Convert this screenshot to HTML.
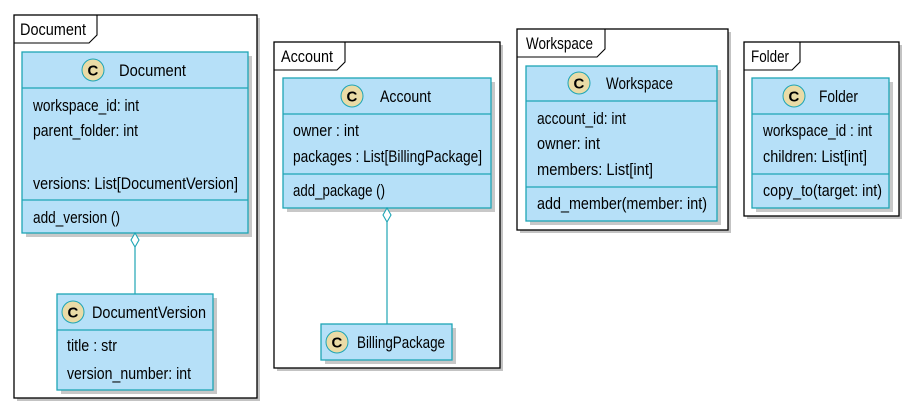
<!DOCTYPE html>
<html><head><meta charset="utf-8"><style>
html,body{margin:0;padding:0;background:#fff;}
svg{display:block;}
text{font-family:"Liberation Sans",sans-serif;font-size:17px;fill:#000;}
.c{font-family:"Liberation Sans",sans-serif;font-weight:bold;font-size:15px;}
.cls{fill:#b6e0f8;stroke:#1ea5b5;stroke-width:1.3;}
.sh{fill:#9a9a9a;opacity:.55;}
.fr{fill:#fff;stroke:#000;stroke-width:1.3;}
.frs{fill:#888;opacity:.5;}
.ln{stroke:#1ea5b5;stroke-width:1.2;fill:none;}
.ci{fill:#eadba6;stroke:#1ea5b5;stroke-width:1;}
</style></head><body>
<svg width="910" height="408" viewBox="0 0 910 408" xmlns="http://www.w3.org/2000/svg">
<!-- Document frame -->
<rect class="frs" x="17" y="18" width="243" height="383"/>
<rect class="fr" x="14" y="15" width="243" height="383"/>
<path d="M14 43 H89 L97 35 V15" fill="none" stroke="#000" stroke-width="1.1"/>
<text x="20" y="35" textLength="66" lengthAdjust="spacingAndGlyphs">Document</text>
<rect class="sh" x="26" y="56" width="226" height="181"/>
<rect class="cls" x="22" y="52" width="226" height="181"/>
<line class="ln" x1="22" y1="88" x2="248" y2="88"/>
<line class="ln" x1="22" y1="200" x2="248" y2="200"/>
<circle class="ci" cx="93" cy="70" r="11"/><text class="c" x="87.5" y="75.5">C</text>
<text x="119" y="76" textLength="67" lengthAdjust="spacingAndGlyphs">Document</text>
<text x="33" y="111" textLength="106" lengthAdjust="spacingAndGlyphs">workspace_id: int</text>
<text x="33" y="136" textLength="105" lengthAdjust="spacingAndGlyphs">parent_folder: int</text>
<text x="33" y="189" textLength="205" lengthAdjust="spacingAndGlyphs">versions: List[DocumentVersion]</text>
<text x="33" y="223" textLength="87" lengthAdjust="spacingAndGlyphs">add_version ()</text>
<line class="ln" x1="135" y1="247" x2="135" y2="294"/>
<path d="M135 233 L139 240 L135 247 L131 240 Z" fill="#fff" stroke="#1ea5b5" stroke-width="1.1"/>
<rect class="sh" x="61" y="298" width="156" height="96"/>
<rect class="cls" x="57" y="294" width="156" height="96"/>
<line class="ln" x1="57" y1="330" x2="213" y2="330"/>
<circle class="ci" cx="73" cy="312" r="11"/><text class="c" x="67.5" y="317.5">C</text>
<text x="92" y="318" textLength="114" lengthAdjust="spacingAndGlyphs">DocumentVersion</text>
<text x="67" y="351" textLength="50" lengthAdjust="spacingAndGlyphs">title : str</text>
<text x="67" y="379" textLength="124" lengthAdjust="spacingAndGlyphs">version_number: int</text>

<!-- Account frame -->
<rect class="frs" x="277" y="45" width="226" height="326"/>
<rect class="fr" x="274" y="42" width="226" height="326"/>
<path d="M274 70 H337 L345 62 V42" fill="none" stroke="#000" stroke-width="1.1"/>
<text x="281" y="62" textLength="52" lengthAdjust="spacingAndGlyphs">Account</text>
<rect class="sh" x="287" y="82" width="208" height="130"/>
<rect class="cls" x="283" y="78" width="208" height="130"/>
<line class="ln" x1="283" y1="114" x2="491" y2="114"/>
<line class="ln" x1="283" y1="174" x2="491" y2="174"/>
<circle class="ci" cx="352" cy="96" r="11"/><text class="c" x="346.5" y="101.5">C</text>
<text x="380" y="102" textLength="51" lengthAdjust="spacingAndGlyphs">Account</text>
<text x="293" y="136" textLength="66" lengthAdjust="spacingAndGlyphs">owner : int</text>
<text x="293" y="162" textLength="189" lengthAdjust="spacingAndGlyphs">packages : List[BillingPackage]</text>
<text x="293" y="196" textLength="92" lengthAdjust="spacingAndGlyphs">add_package ()</text>
<line class="ln" x1="387" y1="222" x2="387" y2="324"/>
<path d="M387 208 L391 215 L387 222 L383 215 Z" fill="#fff" stroke="#1ea5b5" stroke-width="1.1"/>
<rect class="sh" x="325" y="328" width="131" height="36"/>
<rect class="cls" x="321" y="324" width="131" height="36"/>
<circle class="ci" cx="337" cy="342" r="11"/><text class="c" x="331.5" y="347.5">C</text>
<text x="357" y="348" textLength="88" lengthAdjust="spacingAndGlyphs">BillingPackage</text>

<!-- Workspace frame -->
<rect class="frs" x="520" y="32" width="211" height="201"/>
<rect class="fr" x="517" y="29" width="211" height="201"/>
<path d="M517 57 H597 L605 49 V29" fill="none" stroke="#000" stroke-width="1.1"/>
<text x="526" y="49" textLength="67" lengthAdjust="spacingAndGlyphs">Workspace</text>
<rect class="sh" x="530" y="70" width="191" height="155"/>
<rect class="cls" x="526" y="66" width="191" height="155"/>
<line class="ln" x1="526" y1="101" x2="717" y2="101"/>
<line class="ln" x1="526" y1="187" x2="717" y2="187"/>
<circle class="ci" cx="579" cy="83" r="11"/><text class="c" x="573.5" y="88.5">C</text>
<text x="606" y="89" textLength="67" lengthAdjust="spacingAndGlyphs">Workspace</text>
<text x="537" y="124" textLength="89" lengthAdjust="spacingAndGlyphs">account_id: int</text>
<text x="537" y="149" textLength="63" lengthAdjust="spacingAndGlyphs">owner: int</text>
<text x="537" y="175" textLength="116" lengthAdjust="spacingAndGlyphs">members: List[int]</text>
<text x="537" y="209" textLength="170" lengthAdjust="spacingAndGlyphs">add_member(member: int)</text>

<!-- Folder frame -->
<rect class="frs" x="747" y="45" width="155" height="174"/>
<rect class="fr" x="744" y="42" width="155" height="174"/>
<path d="M744 70 H792 L800 62 V42" fill="none" stroke="#000" stroke-width="1.1"/>
<text x="751" y="62" textLength="38" lengthAdjust="spacingAndGlyphs">Folder</text>
<rect class="sh" x="756" y="82" width="137" height="130"/>
<rect class="cls" x="752" y="78" width="137" height="130"/>
<line class="ln" x1="752" y1="114" x2="889" y2="114"/>
<line class="ln" x1="752" y1="174" x2="889" y2="174"/>
<circle class="ci" cx="794" cy="96" r="11"/><text class="c" x="788.5" y="101.5">C</text>
<text x="819" y="102" textLength="39" lengthAdjust="spacingAndGlyphs">Folder</text>
<text x="763" y="136" textLength="109" lengthAdjust="spacingAndGlyphs">workspace_id : int</text>
<text x="763" y="162" textLength="104" lengthAdjust="spacingAndGlyphs">children: List[int]</text>
<text x="763" y="196" textLength="119" lengthAdjust="spacingAndGlyphs">copy_to(target: int)</text>
</svg>
</body></html>
